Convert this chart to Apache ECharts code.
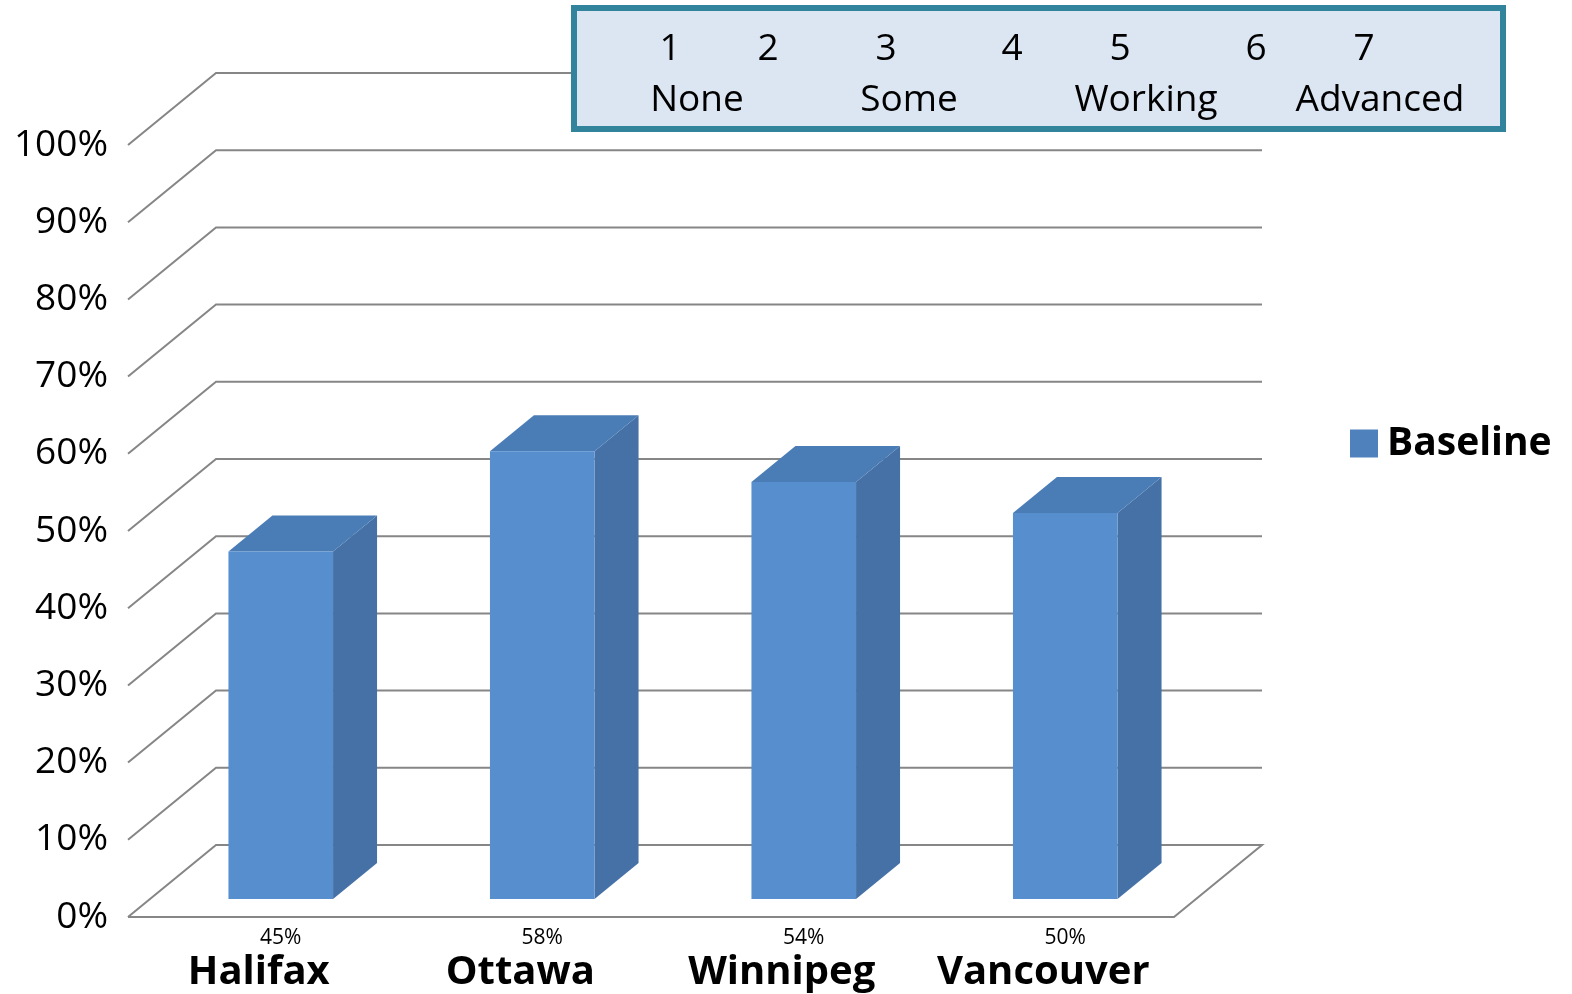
<!DOCTYPE html>
<html><head><meta charset="utf-8">
<script src="https://cdn.jsdelivr.net/npm/echarts@6/dist/echarts.min.js"></script>
<style>html,body{margin:0;padding:0;background:#fff}#c{width:1572px;height:994px}</style>
</head><body><div id="c"></div>
<script>
// ---- data ----
const cities = ['Halifax', 'Ottawa', 'Winnipeg', 'Vancouver'];
const baseline = [0.45, 0.58, 0.54, 0.50];
const valueLabels = ['45%', '58%', '54%', '50%'];
const yTicks = [0, 0.1, 0.2, 0.3, 0.4, 0.5, 0.6, 0.7, 0.8, 0.9, 1.0];
const scaleNumbers = ['1', '2', '3', '4', '5', '6', '7'];
const scaleWords = ['None', 'Some', 'Working', 'Advanced'];
const seriesName = 'Baseline';

// ---- layout / style ----
const DX = 88, DY = -72;               // depth vector of the 3D box
const FONT = '"Open Sans", "Noto Sans", sans-serif';
const numX = [670, 768, 886, 1012, 1120, 1256, 1364];
const wordX = [697, 909, 1146, 1380];

const chart = echarts.init(document.getElementById('c'), null, {renderer: 'canvas'});

function renderGrid(params, api) {
  const v = api.value(1);
  const p = api.coord([0, v]);
  const cs = params.coordSys;
  const x0 = cs.x, x1 = cs.x + cs.width, y = p[1];
  let pts;
  if (v === 0) {
    pts = [[x0, y], [x0 + DX, y + DY], [x1 + DX, y + DY], [x1, y], [x0, y]];
  } else {
    pts = [[x0, y], [x0 + DX, y + DY], [x1 + DX, y + DY]];
  }
  return {type: 'polyline', shape: {points: pts}, style: {stroke: '#868686', lineWidth: 2, fill: null}, z2: 1};
}

function renderBar(params, api) {
  const i = api.value(0), v = api.value(1);
  const top = api.coord([i, v]);
  const bot = api.coord([i, 0]);
  const w = api.size([1, 0])[0] * 0.4;
  const fx = 0.25 * DX, fy = 0.25 * DY;
  const dx = 0.5 * DX, dy = 0.5 * DY;
  const xl = top[0] - w / 2 + fx, xr = top[0] + w / 2 + fx;
  const yt = top[1] + fy, yb = bot[1] + fy;
  return {
    type: 'group',
    children: [
      {type: 'polygon', shape: {points: [[xr, yt], [xr + dx, yt + dy], [xr + dx, yb + dy], [xr, yb]]}, style: {fill: '#4671A6'}},
      {type: 'polygon', shape: {points: [[xl, yt], [xl + dx, yt + dy], [xr + dx, yt + dy], [xr, yt]]}, style: {fill: '#4A7CB6'}},
      {type: 'polygon', shape: {points: [[xl, yt], [xr, yt], [xr, yb], [xl, yb]]}, style: {fill: '#568ECE'}},
      {type: 'text', x: top[0] + fx, y: bot[1] + 21,
        style: {text: valueLabels[params.dataIndex], fill: '#000', font: '21px ' + FONT, align: 'center', verticalAlign: 'middle'}}
    ]
  };
}

const graphics = [
  {type: 'rect', shape: {x: 574, y: 8, width: 929, height: 121}, style: {fill: '#DCE6F2', stroke: '#31849B', lineWidth: 6}, z: 10}
];
scaleNumbers.forEach((t, k) => graphics.push({type: 'text', x: numX[k], y: 49, z: 11,
  style: {text: t, fill: '#000', font: '37px ' + FONT, align: 'center', verticalAlign: 'middle'}}));
scaleWords.forEach((t, k) => graphics.push({type: 'text', x: wordX[k], y: 100, z: 11,
  style: {text: t, fill: '#000', font: '37px ' + FONT, align: 'center', verticalAlign: 'middle'}}));

chart.setOption({
  animation: false,
  backgroundColor: '#fff',
  grid: {left: 128, right: 398, top: 145, bottom: 77},
  legend: {
    data: [seriesName], left: 1345, top: 419, icon: 'rect', itemWidth: 28, itemHeight: 28,
    textStyle: {fontFamily: FONT, fontWeight: 'bold', fontSize: 39, color: '#000', padding: [0, 0, 0, 4]}
  },
  xAxis: {
    type: 'category', data: cities,
    axisLine: {show: false}, axisTick: {show: false}, splitLine: {show: false},
    axisLabel: {interval: 0, fontFamily: FONT, fontWeight: 'bold', fontSize: 40, color: '#000', margin: 36}
  },
  yAxis: {
    type: 'value', min: 0, max: 1, interval: 0.1,
    axisLine: {show: false}, axisTick: {show: false}, splitLine: {show: false},
    axisLabel: {fontFamily: FONT, fontSize: 37, color: '#000', margin: 20, formatter: v => Math.round(v * 100) + '%'}
  },
  graphic: graphics,
  series: [
    {type: 'custom', name: '_grid', renderItem: renderGrid, data: yTicks.map(v => [0, v]), z: 1, silent: true, encode: {x: 0, y: 1}},
    {type: 'custom', name: seriesName, renderItem: renderBar, data: baseline.map((v, i) => [i, v]), z: 5,
      itemStyle: {color: '#4F81BD'}, encode: {x: 0, y: 1}}
  ]
});
</script>
</body></html>
